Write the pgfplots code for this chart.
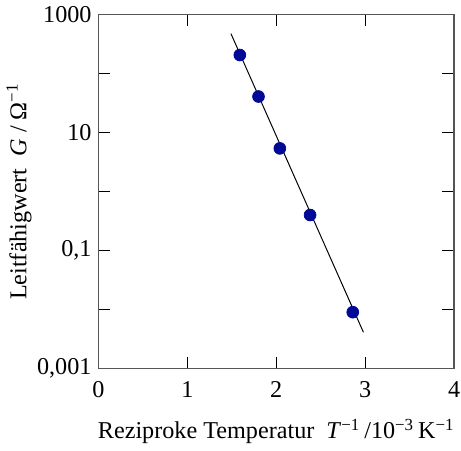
\documentclass[border=0pt]{standalone}
\usepackage{fontspec}
\setmainfont{Liberation Serif}
\usepackage{pgfplots}
\pgfplotsset{compat=1.18}
\definecolor{pointblue}{RGB}{0, 10, 150}
\definecolor{framegray}{RGB}{85, 85, 85}
\newcommand{\sumi}[1]{\textsuperscript{\char"2212 #1}}
\begin{document}
\begin{tikzpicture}[trim right=184.5pt]
\begin{axis}[
    scale only axis,
    width=181pt, height=180pt,
    ymode=log,
    xmin=0, xmax=4,
    ymin=0.001, ymax=1000,
    xtick={0,1,2,3,4},
    ytick={0.001,0.1,10,1000},
    yticklabels={{0,001},{0,1},{10},{1000}},
    minor ytick={0.01,1,100},
    tick align=inside,
    major tick length=6pt,
    minor tick length=6pt,
    tick style={black, line width=0.6pt},
    axis line style={framegray, line width=0.8pt},
    font=\fontsize{12.3}{14}\selectfont,
    /pgf/number format/assume math mode=true,
    xticklabel style={yshift=-3pt},
    yticklabel style={xshift=0pt},
    xlabel={Reziproke Temperatur\ \ \textit{T}\sumi{1}\,/10\sumi{3}\,K\sumi{1}},
    ylabel={Leitfähigwert\ \ \textit{G}\ /\ Ω\sumi{1}},
    xlabel style={yshift=-4pt},
    ylabel style={yshift=-4pt},
]
\addplot[black, line width=0.5pt] coordinates {(1.49,477) (2.98,0.0041)};
\addplot[only marks, mark=*, mark size=3pt, color=pointblue]
    coordinates {(1.59,207) (1.80,40.9) (2.04,5.4) (2.38,0.40) (2.86,0.009)};
\end{axis}
\end{tikzpicture}
\end{document}
